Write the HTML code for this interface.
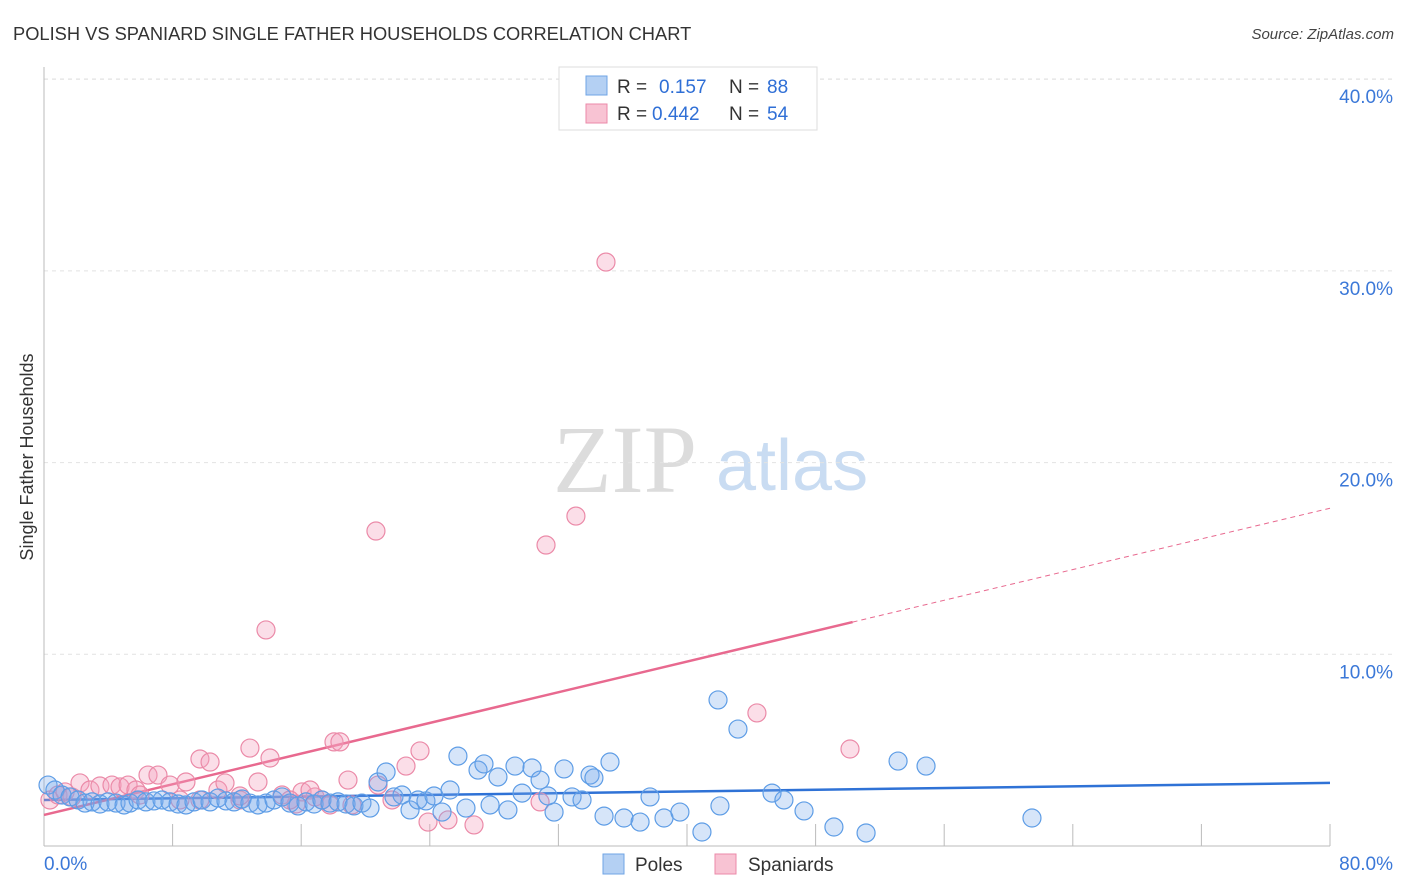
<!DOCTYPE html>
<html><head><meta charset="utf-8"><style>
body{margin:0;background:#fff;font-family:"Liberation Sans",sans-serif;}
svg{display:block}
</style></head><body>
<svg id="chart" width="1406" height="892" xmlns="http://www.w3.org/2000/svg">
<text x="13" y="40" font-size="18.3" fill="#333">POLISH VS SPANIARD SINGLE FATHER HOUSEHOLDS CORRELATION CHART</text>
<text x="1394" y="39" font-size="15" fill="#444" text-anchor="end" font-style="italic">Source: ZipAtlas.com</text>
<g>
<text x="553" y="492" font-size="96" font-family="Liberation Serif,serif" fill="#dcdcdc">ZIP</text>
<text x="716" y="490" font-size="72" fill="#c9dcf2">atlas</text>
</g>
<g id="grid"></g>
<g id="axes"></g>
<g id="trends"></g>
<g id="pts"></g>
<text transform="translate(33,457) rotate(-90)" font-size="18" fill="#333" text-anchor="middle">Single Father Households</text>
<g>
<rect x="559" y="67" width="258" height="63" fill="#fff" stroke="#ddd"/>
<rect x="586" y="76" width="21" height="19" fill="#b4d0f3" stroke="#6fa4e6"/>
<text x="617" y="93" font-size="19" fill="#333">R =</text>
<text x="659" y="93" font-size="19" fill="#2f6fd6">0.157</text>
<text x="729" y="93" font-size="19" fill="#333">N =</text>
<text x="767" y="93" font-size="19" fill="#2f6fd6">88</text>
<rect x="586" y="104" width="21" height="19" fill="#f8c3d3" stroke="#eb8aa8"/>
<text x="617" y="120" font-size="19" fill="#333">R =</text>
<text x="652" y="120" font-size="19" fill="#2f6fd6">0.442</text>
<text x="729" y="120" font-size="19" fill="#333">N =</text>
<text x="767" y="120" font-size="19" fill="#2f6fd6">54</text>
</g>
<g>
<rect x="603" y="854" width="21" height="20" fill="#b4d0f3" stroke="#6fa4e6"/>
<text x="635" y="871" font-size="19" fill="#333">Poles</text>
<rect x="715" y="854" width="21" height="20" fill="#f8c3d3" stroke="#eb8aa8"/>
<text x="748" y="871" font-size="19" fill="#333">Spaniards</text>
</g>
</svg>
<script>
const xTickLabels=["0.0%","80.0%"];
const yTicks=[10,20,30,40];
const yTickLabels=["10.0%","20.0%","30.0%","40.0%"];
const polesX=[0.25,0.68,1.12,1.62,2.12,2.55,2.99,3.48,3.98,4.48,4.98,5.35,5.85,6.34,6.84,7.34,7.84,8.34,8.83,9.33,9.83,10.33,10.82,11.32,11.82,12.32,12.81,13.31,13.81,14.31,14.81,15.30,15.80,16.30,16.80,17.29,17.79,18.29,18.79,19.28,19.78,20.28,20.78,21.28,21.77,22.27,22.77,23.27,23.76,24.26,24.76,25.26,25.75,26.25,27.0,27.37,27.75,28.24,28.86,29.3,29.74,30.36,30.86,31.35,31.73,32.35,32.85,33.47,33.97,34.21,34.84,35.21,36.08,37.08,37.70,38.57,39.56,40.93,41.93,42.05,43.17,45.29,46.03,47.28,49.14,51.14,53.13,54.87,61.46];
const polesY=[3.18,2.92,2.66,2.56,2.40,2.24,2.30,2.19,2.30,2.24,2.14,2.24,2.40,2.30,2.35,2.40,2.30,2.19,2.14,2.30,2.40,2.30,2.50,2.35,2.30,2.45,2.24,2.14,2.24,2.40,2.56,2.24,2.09,2.30,2.19,2.40,2.24,2.30,2.19,2.09,2.24,1.98,3.34,3.86,2.56,2.66,1.88,2.40,2.35,2.61,1.77,2.92,4.69,1.98,3.96,4.28,2.14,3.60,1.88,4.17,2.76,4.07,3.44,2.61,1.77,4.02,2.56,2.40,3.70,3.55,1.56,4.38,1.46,1.25,2.56,1.46,1.77,0.73,7.62,2.09,6.10,2.76,2.40,1.83,0.99,0.68,4.43,4.17,1.46];
const spanX=[0.37,0.87,1.31,1.74,2.24,2.86,3.48,4.23,4.73,5.23,5.72,6.47,7.09,7.84,8.46,8.83,9.70,10.33,10.82,11.26,12.19,12.81,13.31,14.06,14.81,15.68,16.05,16.86,17.29,18.04,18.41,18.91,19.16,20.65,20.78,21.65,22.52,23.39,23.89,25.13,26.75,30.86,31.23,33.09,34.96,44.35,50.14,13.81,12.19,16.55,15.30,17.79,9.70,5.97];
const spanY=[2.40,2.66,2.82,2.56,3.29,2.92,3.13,3.18,3.08,3.18,2.92,3.70,3.70,3.18,2.40,3.34,4.54,4.38,2.92,3.29,2.40,5.11,3.34,4.59,2.66,2.19,2.82,2.56,2.40,5.43,5.43,3.44,2.14,16.43,3.18,2.40,4.17,4.96,1.25,1.36,1.10,2.30,15.70,17.21,30.46,6.94,5.06,11.27,2.61,2.92,2.40,2.14,2.40,2.66];
const polesTrend=[2.40,3.29];
const spanTrend=[1.62,0.20];
const spanSolidEnd=50.3;

const NS="http://www.w3.org/2000/svg";
const X0=44,X1=1330,Y0=846,pxPerY=19.17;
const xs=v=>X0+(X1-X0)*v/80;
const ys=v=>Y0-v*pxPerY;
function mk(parent,tag,attrs){const e=document.createElementNS(NS,tag);for(const k in attrs)e.setAttribute(k,attrs[k]);document.getElementById(parent).appendChild(e);return e;}

yTicks.forEach((t,i)=>{
 const g=mk('grid','line',{x1:X0,x2:1394,y1:ys(t),y2:ys(t),stroke:'#e2e2e2','stroke-dasharray':'4,4'});
 
 
 const l=mk('grid','text',{x:1393,y:ys(t)+24,'font-size':19,fill:'#3b78d8','text-anchor':'end'});
 l.textContent=yTickLabels[i];
 
 
});
const topGrid=mk('grid','line',{x1:X0,x2:1394,y1:79,y2:79,stroke:'#e2e2e2','stroke-dasharray':'4,4'});


const ya=mk('axes','line',{x1:X0,x2:X0,y1:67,y2:Y0,stroke:'#bbb'});


const xa=mk('axes','line',{x1:X0,x2:X1,y1:Y0,y2:Y0,stroke:'#bbb'});


for(let i=1;i<=10;i++){
 const t=mk('axes','line',{x1:xs(i*8),x2:xs(i*8),y1:Y0-22,y2:Y0,stroke:'#bbb'});
 
 
}
[[X0,'start',0],[1393,'end',1]].forEach(([x,a,i])=>{
 const l=mk('axes','text',{x:x,y:870,'font-size':19,fill:'#3b78d8','text-anchor':a});
 l.textContent=xTickLabels[i];
 
 
});

function dot(x,y,fill,stroke,name){
 const c=mk('pts','circle',{cx:xs(x),cy:ys(y),r:9,fill:fill,stroke:stroke,'stroke-width':1.2});
 
 
}
for(let i=0;i<Math.min(spanX.length,spanY.length);i++)dot(spanX[i],spanY[i],'rgba(244,160,188,0.35)','#eb8aa8','spaniards-point');
for(let i=0;i<Math.min(polesX.length,polesY.length);i++)dot(polesX[i],polesY[i],'rgba(120,170,235,0.3)','#5e9de6','poles-point');

const bt=mk('trends','line',{x1:xs(0),y1:ys(polesTrend[0]),x2:xs(80),y2:ys(polesTrend[1]),stroke:'#2f72d6','stroke-width':2.5});


const sf=v=>spanTrend[0]+spanTrend[1]*v;
const st=mk('trends','line',{x1:xs(0),y1:ys(sf(0)),x2:xs(spanSolidEnd),y2:ys(sf(spanSolidEnd)),stroke:'#e8698f','stroke-width':2.5});


const sd=mk('trends','line',{x1:xs(spanSolidEnd),y1:ys(sf(spanSolidEnd)),x2:xs(80),y2:ys(sf(80)),stroke:'#e8698f','stroke-width':1,'stroke-dasharray':'5,4'});


</script>
</body></html>
